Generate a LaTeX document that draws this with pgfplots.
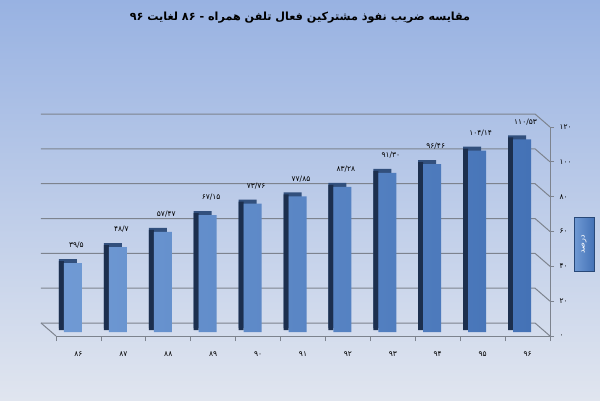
\documentclass[border=0pt]{standalone}
\usepackage{pgfplots}
\pgfplotsset{compat=1.18}
\usepackage{pgfplotstable}
\usepackage{fontspec}
\TeXXeTstate=1
\newfontfamily\arabicfont[Script=Arabic]{DejaVu Sans}

\definecolor{bgtop}{RGB}{152,178,226}
\definecolor{bgbot}{RGB}{224,229,239}
\definecolor{gridc}{RGB}{125,131,142}
\definecolor{barL}{RGB}{112,154,212}
\definecolor{barR}{RGB}{68,114,182}
\definecolor{barside}{RGB}{28,47,78}
\definecolor{bartop}{RGB}{50,80,125}
\definecolor{boxedge}{RGB}{40,72,120}

% values and their Persian labels
\pgfplotstableread{
x y lab
0 39.5 ۳۹/۵
1 48.7 ۴۸/۷
2 57.47 ۵۷/۴۷
3 67.15 ۶۷/۱۵
4 73.76 ۷۳/۷۶
5 77.85 ۷۷/۸۵
6 83.28 ۸۳/۲۸
7 91.30 ۹۱/۳۰
8 96.46 ۹۶/۴۶
9 104.14 ۱۰۴/۱۴
10 110.53 ۱۱۰/۵۳
}\penetration

\begin{document}
\begin{tikzpicture}
\useasboundingbox (0,0) rectangle (600pt,400pt);
\shade[top color=bgtop, bottom color=bgbot] (0,0) rectangle (600pt,400pt);

% title
\node[font=\arabicfont\bfseries\fontsize{11.2}{13}\selectfont] at (300pt,382pt)
  {\beginR مقایسه ضریب نفوذ مشترکین فعال تلفن همراه - ۸۶ لغایت ۹۶\endR};

% y axis title box
\node[draw=boxedge, line width=0.8pt, left color=barL, right color=barR,
  minimum width=20pt, minimum height=54pt, inner sep=0pt] at (584pt,156pt) {};
\node[rotate=90, text=white, font=\arabicfont\fontsize{8}{9}\selectfont] at (584pt,156pt)
  {\beginR درصد\endR};

\begin{axis}[
  at={(56pt,64pt)}, anchor=south west,
  scale only axis, width=494pt, height=209pt,
  clip=false,
  xmin=-0.5, xmax=10.5, ymin=0, ymax=120,
  axis x line=bottom, axis y line=right,
  axis line style={-, draw=gridc, line width=1pt},
  tick align=outside,
  xtick={0,...,10},
  xticklabels={۸۶,۸۷,۸۸,۸۹,۹۰,۹۱,۹۲,۹۳,۹۴,۹۵,۹۶},
  major x tick style={draw=none},
  minor xtick={-0.5,0.5,...,10.5},
  minor x tick style={draw=gridc, line width=0.8pt},
  minor tick length=5pt,
  x tick label style={font=\arabicfont\fontsize{7.5}{9}\selectfont, yshift=-8pt},
  ytick={0,20,...,120},
  yticklabels={۰,۲۰,۴۰,۶۰,۸۰,۱۰۰,۱۲۰},
  y tick label style={font=\arabicfont\fontsize{7.5}{9}\selectfont, xshift=2pt},
  major y tick style={draw=gridc, line width=0.8pt},
  major tick length=4pt,
]
% back wall grid and floor
\pgfplotsinvokeforeach{0,20,...,120}{
  \draw[gridc, line width=1pt] ([xshift=-15pt,yshift=13pt]axis cs:-0.5,#1)
    -- ([xshift=-15pt,yshift=13pt]axis cs:10.5,#1) -- (axis cs:10.5,#1);
}
\draw[gridc, line width=1pt] ([xshift=-15pt,yshift=13pt]axis cs:-0.5,0) -- (axis cs:-0.5,0);

% bar top face (behind), then side face, then front
\addplot[ybar, bar width=18pt, bar shift=-10.5pt, yshift=8pt, fill=bartop, draw=none]
  table[x=x, y=y] {\penetration};
\addplot[ybar, bar width=5pt, bar shift=-17pt, yshift=6pt, fill=barside, draw=none]
  table[x=x, y=y] {\penetration};
\addplot[ybar, bar width=18pt, bar shift=-5.5pt, yshift=4pt,
  left color=barL, right color=barR, draw=none,
  point meta=explicit symbolic,
  nodes near coords,
  every node near coord/.append style={font=\arabicfont\fontsize{7.5}{9}\selectfont,
    yshift=11pt, xshift=-2pt}]
  table[x=x, y=y, meta=lab] {\penetration};
\end{axis}
\end{tikzpicture}
\end{document}
